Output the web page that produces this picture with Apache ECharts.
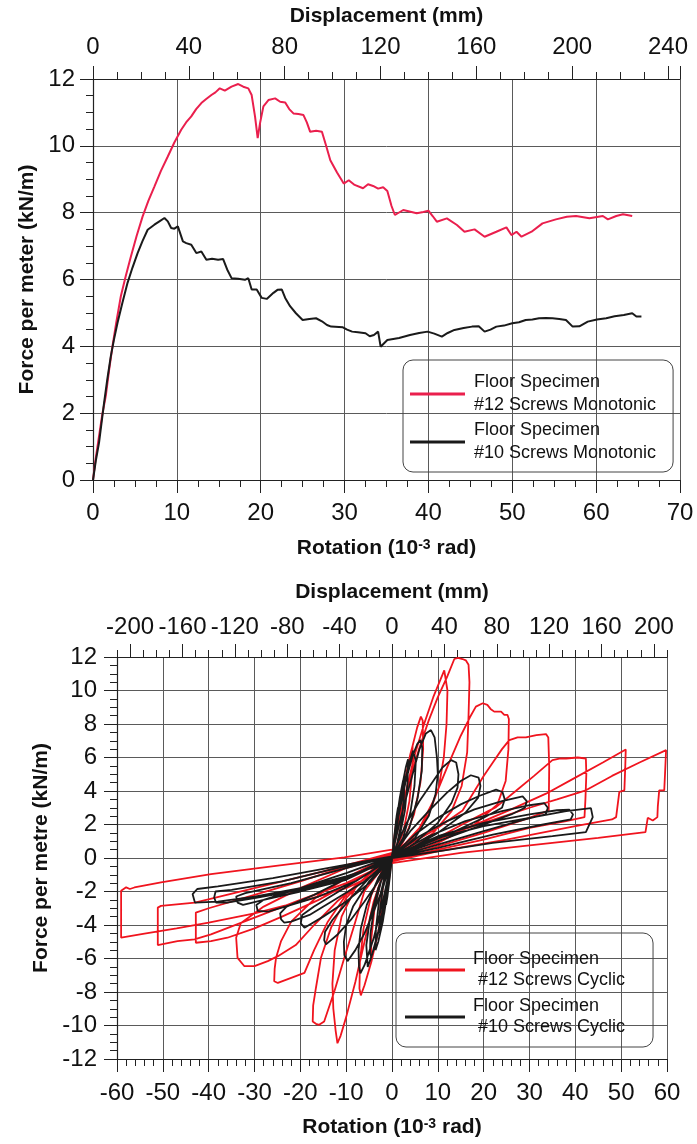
<!DOCTYPE html>
<html><head><meta charset="utf-8">
<script src="https://cdn.jsdelivr.net/npm/echarts@6/dist/echarts.min.js"></script>
<style>html,body{margin:0;padding:0;background:#fff}#c{width:697px;height:1144px}</style>
</head><body><div id="c"></div>
<script>
// ---------- Top chart: monotonic tests [rotation (1e-3 rad), force (kN/m)] ----------
const monoRed12 = [[0,0],[0.3,0.6],[0.72,1.31],[1.1,1.95],[1.52,2.51],[1.9,3.25],[2.32,4.0],[2.8,4.75],[3.32,5.5],[3.9,6.1],[4.52,6.69],[5.2,7.3],[5.92,7.89],[6.6,8.35],[7.32,8.78],[8.1,9.25],[8.92,9.68],[9.7,10.1],[10.52,10.48],[11.1,10.7],[11.72,10.88],[12.3,11.1],[12.92,11.28],[13.5,11.4],[14.12,11.52],[14.6,11.6],[15.12,11.72],[15.72,11.65],[16.52,11.77],[17.32,11.85],[17.92,11.77],[18.52,11.72],[18.92,11.52],[19.32,10.88],[19.64,10.23],[19.92,10.68],[20.32,11.18],[20.92,11.37],[21.72,11.42],[22.32,11.32],[22.92,11.3],[23.4,11.1],[23.9,10.97],[24.5,10.95],[25.1,10.92],[25.5,10.7],[25.9,10.42],[26.6,10.45],[27.3,10.42],[27.8,10.0],[28.3,9.57],[29.1,9.2],[29.9,8.87],[30.5,8.97],[31.2,8.83],[32.2,8.73],[32.8,8.85],[33.4,8.8],[34.0,8.72],[34.6,8.76],[35.1,8.65],[35.6,8.2],[36.0,7.93],[37.0,8.08],[38.6,7.98],[39.4,8.02],[40.0,8.06],[40.5,7.9],[41.0,7.73],[42.2,7.83],[43.4,7.63],[44.3,7.43],[45.5,7.5],[46.7,7.28],[48.1,7.43],[49.3,7.56],[49.9,7.33],[50.5,7.43],[51.1,7.28],[52.3,7.43],[53.6,7.68],[55.2,7.8],[56.5,7.88],[57.6,7.9],[59.2,7.83],[60.8,7.9],[61.4,7.8],[62.4,7.9],[63.2,7.95],[64.3,7.9]];
const monoBlack10 = [[0,0],[0.35,0.6],[0.72,1.12],[1.32,2.31],[1.7,3.0],[2.12,3.7],[2.5,4.2],[2.92,4.7],[3.5,5.3],[4.12,5.9],[4.7,6.35],[5.32,6.79],[5.9,7.15],[6.52,7.49],[7.32,7.64],[7.92,7.74],[8.52,7.84],[8.92,7.74],[9.32,7.54],[9.7,7.52],[10.12,7.59],[10.72,7.14],[11.12,7.09],[11.72,7.04],[12.32,6.79],[12.92,6.84],[13.52,6.59],[14.2,6.62],[14.92,6.59],[15.52,6.61],[16.0,6.3],[16.52,6.04],[17.3,6.02],[18.12,5.99],[18.52,6.04],[18.92,5.7],[19.52,5.7],[20.12,5.45],[20.72,5.42],[21.52,5.6],[22.0,5.69],[22.52,5.7],[22.92,5.45],[23.5,5.2],[24.2,4.99],[25.0,4.79],[25.8,4.82],[26.6,4.84],[27.3,4.75],[27.9,4.64],[28.4,4.59],[29.8,4.57],[30.3,4.5],[30.9,4.44],[31.6,4.42],[32.5,4.39],[33.0,4.3],[33.5,4.34],[34.0,4.44],[34.3,3.99],[35.1,4.19],[36.5,4.25],[37.8,4.34],[38.9,4.4],[39.9,4.44],[40.7,4.38],[41.6,4.29],[42.3,4.4],[43.1,4.49],[44.2,4.55],[45.2,4.59],[46.0,4.6],[46.7,4.44],[47.4,4.5],[48.1,4.59],[49.0,4.62],[50.0,4.69],[50.8,4.72],[51.6,4.79],[52.4,4.8],[53.2,4.84],[54.0,4.85],[54.8,4.84],[55.6,4.82],[56.4,4.79],[57.2,4.59],[58.0,4.6],[59.0,4.74],[60.1,4.8],[61.2,4.84],[62.2,4.9],[63.3,4.94],[64.3,4.99],[64.8,4.89],[65.4,4.89]];

// ---------- Bottom chart: cyclic tests, one loop per array ----------
const redLoop1 = [[0,0],[0.5,1.2],[1,2.3],[1.2,2.6],[1.0,1.8],[0.5,0.7],[0,0],[-0.5,-1.0],[-1,-2.0],[-1.2,-2.3],[-1.0,-1.5],[-0.5,-0.6],[0,0]];
const redLoop2 = [[0,0],[1,2],[2,3.6],[2.6,4.3],[2.5,3.0],[1.8,1.6],[1,0.6],[0,0],[-1,-1.8],[-2,-3.4],[-2.6,-4.0],[-2.5,-2.8],[-1.8,-1.4],[-1,-0.5],[0,0]];
const redLoop3 = [[0,0],[1,1.8],[2,3.4],[3,4.9],[4,6.2],[4.5,6.7],[4.4,5.2],[3.8,3.4],[2.5,1.6],[1,0.5],[0,0],[-1,-1.6],[-2,-3.0],[-3,-4.4],[-4,-5.6],[-4.6,-6.2],[-4.5,-4.8],[-3.8,-3.0],[-2.5,-1.4],[-1,-0.4],[0,0]];
const redLoop4 = [[0,0.1],[1.5,2.6],[3,4.8],[4.5,6.7],[5.5,7.8],[6.3,8.44],[6.7,8.2],[6.8,6.5],[6.2,4.5],[4.8,2.6],[2.5,1.0],[0,0],[-1.5,-2.3],[-3,-4.4],[-4.5,-6.2],[-6,-7.6],[-6.8,-8.2],[-7.1,-7.8],[-7,-6.2],[-6.2,-4.2],[-4.5,-2.2],[-2,-0.7],[0,0]];
const redLoop5 = [[0,0.2],[1.5,2.2],[3.1,4.04],[5,6.2],[7,8.0],[9,9.6],[10.5,10.6],[11.4,11.2],[11.8,11.1],[12.1,10],[11.9,8],[11.3,6],[10.2,4.2],[8,2.6],[4,1.0],[0,0],[-2,-1.0],[-4,-2.6],[-6,-5.0],[-8,-7.4],[-10,-9.5],[-11.2,-10.6],[-11.9,-11.06],[-12.3,-10.3],[-12.8,-9],[-13,-7.5],[-12.5,-5.5],[-11,-3.5],[-8,-1.8],[-4,-0.6],[0,0.2]];
const redLoop6 = [[0,0.2],[2,2.6],[4,4.8],[6,6.6],[8,8.2],[10,9.6],[12,10.8],[13.6,11.88],[14.4,11.95],[15.4,11.88],[16.1,11.8],[16.7,11.54],[16.9,10.5],[16.7,8.5],[16.4,6.3],[15.2,4.3],[13,2.8],[9,1.5],[4,0.5],[0,0],[-3,-0.9],[-6,-1.96],[-8,-3.8],[-10.4,-5.96],[-12.5,-7.9],[-14.8,-9.76],[-15.9,-9.96],[-16.6,-9.9],[-17.3,-9.76],[-17.2,-8.8],[-16.6,-7.76],[-15.5,-5.96],[-13.3,-4.16],[-10,-2.4],[-5,-0.9],[0,0.2]];
const redLoop7 = [[0,0.2],[3,0.9],[6,1.8],[9,3.4],[12,5.4],[15,7.3],[17,8.4],[18.3,9.04],[19.8,9.24],[20.8,9.14],[21.5,8.9],[22.3,8.74],[23.8,8.74],[24.5,8.55],[25.2,8.54],[25.5,8.3],[25.4,6.5],[24.8,4.6],[23,3.2],[18,2.0],[10,0.9],[4,0.3],[0,-0.1],[-5,-1.0],[-10,-2.2],[-14,-3.8],[-17,-5.5],[-19.1,-6.86],[-22,-7.16],[-24.9,-7.46],[-25.7,-7.36],[-25.6,-6.6],[-25.3,-5.96],[-24.2,-4.96],[-22,-3.8],[-16,-2.2],[-8,-0.9],[0,0.2]];
const redLoop8 = [[0,0.2],[5,1.0],[10,1.8],[15.4,2.84],[18,4.0],[20,4.9],[22,5.7],[24,6.5],[25.6,7.04],[27.4,7.2],[29.2,7.2],[31.5,7.34],[33.6,7.4],[34.1,7.2],[34.3,5.5],[34.2,2.84],[30,2.4],[20,1.5],[10,0.7],[0,-0.1],[-6,-1.2],[-12,-2.6],[-17,-4.0],[-21,-5.2],[-24.9,-5.86],[-27.1,-6.16],[-30,-6.46],[-32.2,-6.46],[-33.7,-5.96],[-34,-4.76],[-33,-3.9],[-28,-2.9],[-20,-1.8],[-10,-0.6],[0,0.2]];
const redLoop9 = [[0,0.2],[10,1.2],[16,2.1],[22.7,3.04],[27,4.0],[31,4.9],[35,5.84],[36.5,5.94],[38,5.94],[40.5,6.0],[42.3,5.94],[42.4,5.0],[42.2,3.5],[42.0,2.44],[38,2.2],[30,1.8],[20,1.1],[10,0.5],[0,-0.1],[-8,-1.3],[-16,-2.5],[-24,-3.5],[-30,-4.2],[-35.9,-4.76],[-39.5,-4.96],[-42.8,-5.06],[-42.8,-4.2],[-42.8,-3.26],[-40,-3.0],[-30,-2.2],[-20,-1.4],[-10,-0.5],[0,0.2]];
const redLoop10 = [[0,0.2],[10,1.1],[20,2.2],[26,2.9],[33.6,3.84],[40,4.8],[46,5.7],[51,6.48],[50.9,5.5],[50.7,4.04],[49.6,3.95],[48.9,2.44],[48,2.3],[40,1.9],[25,1.1],[10,0.4],[0,-0.2],[-10,-1.5],[-20,-2.5],[-30,-3.56],[-39.5,-4.56],[-43.1,-4.86],[-46.8,-4.96],[-51.1,-5.2],[-51.1,-4.2],[-51.1,-2.96],[-50.4,-2.86],[-43,-2.66],[-30,-1.8],[-15,-0.8],[0,0.3]];
const redLoop11 = [[0,0.2],[10,1.2],[20,2.1],[30,3.0],[36,3.5],[42.3,4.04],[48,4.9],[54,5.7],[59.8,6.44],[59.6,5.2],[59.4,4.04],[58.3,4.04],[58,3.1],[57.9,2.44],[56.9,2.24],[55.8,2.4],[55.3,1.54],[45,1.2],[30,0.75],[15,0.3],[0,-0.3],[-3,-0.9],[-10,-1.8],[-20,-2.6],[-30,-3.3],[-40,-3.86],[-47,-4.2],[-54,-4.52],[-59.1,-4.76],[-59.1,-3.4],[-59.1,-1.96],[-58.8,-1.96],[-58,-1.75],[-57.2,-1.85],[-56.2,-1.76],[-50.4,-1.46],[-39.5,-0.96],[-24.9,-0.46],[-10.4,0.04],[0,0.5]];

const blackLoop1 = [[0,0],[0.5,1.3],[1,2.5],[1.3,3.0],[1.1,2.0],[0.5,0.7],[0,0],[-0.5,-1.2],[-1,-2.3],[-1.3,-2.8],[-1.1,-1.8],[-0.5,-0.6],[0,0]];
const blackLoop2 = [[0,0],[1,2.2],[2,4.0],[3,5.4],[3.5,5.9],[3.4,4.5],[2.8,2.8],[1.6,1.2],[0,0],[-1,-2],[-2,-3.8],[-3,-5.0],[-3.6,-5.5],[-3.5,-4.2],[-2.8,-2.5],[-1.5,-1.0],[0,0]];
const blackLoop2b = [[0,0],[0.8,1.9],[1.7,3.6],[2.4,4.6],[2.7,4.9],[2.6,3.6],[2.0,2.0],[1.0,0.7],[0,0],[-0.8,-1.7],[-1.7,-3.3],[-2.4,-4.2],[-2.8,-4.5],[-2.7,-3.3],[-2.0,-1.8],[-1.0,-0.6],[0,0]];
const blackLoop3 = [[0,0.1],[1.5,2.6],[3,4.6],[4.5,6.1],[5.5,6.8],[6.2,7.04],[6.6,6.6],[6.5,5.2],[5.6,3.6],[3.8,1.8],[1.5,0.6],[0,0],[-1.5,-2.4],[-3,-4.4],[-4.5,-5.9],[-5.3,-6.5],[-5.6,-6.4],[-5.6,-5.2],[-4.8,-3.6],[-3,-1.8],[-1.2,-0.6],[0,0]];
const blackLoop3b = [[0,0.1],[1.2,2.3],[2.5,4.2],[3.8,5.7],[4.6,6.4],[5.0,6.5],[5.2,5.8],[4.9,4.3],[4.0,2.7],[2.4,1.2],[0,0],[-1.2,-2.1],[-2.5,-3.9],[-3.8,-5.3],[-4.5,-5.9],[-4.8,-5.7],[-4.7,-4.5],[-3.9,-3.0],[-2.4,-1.4],[0,0]];
const blackLoop4 = [[0,0.2],[2,2.5],[4,4.5],[6,6.5],[7.4,7.44],[8.5,7.64],[9.3,7.2],[9.8,6.0],[10,5.0],[9.5,3.8],[8,2.5],[5,1.2],[0,0],[-2,-2.6],[-4,-4.8],[-6,-6.4],[-6.9,-6.88],[-7.2,-6.5],[-7.3,-5.5],[-6.8,-4.2],[-5.5,-2.8],[-3,-1.2],[0,0.1]];
const blackLoop5 = [[0,0.2],[3,2.0],[6,3.4],[9,4.6],[11,5.4],[12.9,5.84],[14,5.7],[14.5,5.0],[14.3,4.2],[13,3.3],[10,2.1],[5,0.9],[0,0],[-2,-1.8],[-4,-3.2],[-6,-4.5],[-8,-5.5],[-9.7,-6.16],[-10.4,-5.8],[-10.5,-5.0],[-10,-4.0],[-8.5,-2.9],[-5,-1.4],[0,0.1]];
const blackLoop6 = [[0,0.2],[4,1.6],[8,2.8],[12,3.9],[15,4.6],[17.2,4.94],[18.9,4.8],[19.3,4.3],[18.8,3.6],[16,2.7],[10,1.5],[5,0.7],[0,0],[-3,-1.4],[-6,-2.6],[-9,-3.7],[-12,-4.6],[-14.4,-5.16],[-14.8,-4.9],[-14.6,-4.4],[-13,-3.7],[-9,-2.4],[-5,-1.2],[0,0.1]];
const blackLoop7 = [[0,0.2],[5,1.4],[10,2.4],[15,3.2],[19,3.7],[22.7,4.08],[24.1,3.94],[24.6,3.5],[24,3.0],[20,2.4],[13,1.5],[6,0.7],[0,0],[-5,-1.5],[-10,-2.6],[-15,-3.5],[-19.1,-4.16],[-19.9,-3.9],[-19.6,-3.4],[-17,-2.9],[-11,-1.9],[-5,-0.9],[0,0.1]];
const blackLoop8 = [[0,0.2],[6,1.3],[12,2.2],[18,2.9],[24,3.4],[28.5,3.68],[29.4,3.4],[29,3.0],[26,2.6],[18,1.8],[9,0.9],[0,0],[-6,-1.4],[-12,-2.4],[-18,-3.4],[-22,-3.8],[-23.5,-3.86],[-24.2,-3.66],[-24.4,-3.3],[-23,-2.9],[-17,-2.2],[-9,-1.1],[0,0.1]];
const blackLoop9 = [[0,0.2],[8,1.3],[16,2.2],[24,2.8],[30,3.15],[33.2,3.28],[34,3.0],[33.5,2.6],[29,2.3],[20,1.6],[10,0.8],[0,0],[-8,-1.4],[-16,-2.3],[-22,-2.8],[-27,-3.2],[-29.3,-3.16],[-29.6,-2.8],[-28,-2.5],[-20,-1.8],[-10,-0.9],[0,0.1]];
const blackLoop10 = [[0,0.2],[10,1.3],[20,2.1],[30,2.6],[36,2.85],[38.7,2.88],[39.5,2.6],[39,2.3],[33,2.0],[22,1.4],[10,0.6],[0,0],[-10,-1.3],[-20,-2.0],[-28,-2.5],[-32.5,-2.8],[-33.7,-2.66],[-34,-2.3],[-32,-2.1],[-22,-1.5],[-10,-0.6],[0,0.1]];
const blackLoop11 = [[0,0.2],[10,1.2],[20,1.9],[30,2.4],[38,2.8],[43.4,2.98],[43.8,2.44],[42.3,1.54],[35,1.3],[22,0.9],[10,0.4],[0,0],[-10,-1.2],[-20,-1.9],[-30,-2.4],[-36,-2.66],[-38.4,-2.66],[-38.8,-2.36],[-38.5,-2.0],[-35,-1.9],[-24,-1.4],[-12,-0.6],[0,0.1]];
const blackLoop12 = [[0,-0.2],[-10,-1.1],[-20,-1.8],[-30,-2.3],[-38,-2.6],[-43,-2.66],[-43.5,-2.16],[-42.5,-1.85],[-38,-1.7],[-26,-1.2],[-12,-0.5],[0,0.1]];

// ---------- Axis tick labels ----------
const dispTopLabels = [0, 40, 80, 120, 160, 200, 240];
const dispBottomLabels = [-200, -160, -120, -80, -40, 0, 40, 80, 120, 160, 200];

const red12Cyclic = [].concat(redLoop1, redLoop2, redLoop3, redLoop4, redLoop5, redLoop6, redLoop7, redLoop8, redLoop9, redLoop10, redLoop11);
const black10Cyclic = [].concat(blackLoop1, blackLoop2b, blackLoop2, blackLoop3b, blackLoop3, blackLoop4, blackLoop5, blackLoop6, blackLoop7, blackLoop8, blackLoop9, blackLoop10, blackLoop11, blackLoop12);

const FONT = '"Liberation Sans", Arial, sans-serif';
const TXT = '#111';
const AX = '#222';
const GRIDC = '#5a5a5a';

const N_RM = 'Floor Specimen\n#12 Screws Monotonic';
const N_BM = 'Floor Specimen\n#10 Screws Monotonic';
const N_RC = 'Floor Specimen\n #12 Screws Cyclic';
const N_BC = 'Floor Specimen\n #10 Screws Cyclic';

function baseAxis(extra) {
  const a = Object.assign({
    type: 'value',
    axisLine: { show: true, lineStyle: { color: AX, width: 1.2 } },
    axisTick: { show: true, inside: false, length: 13, lineStyle: { color: AX, width: 1 } },
    minorTick: { show: true, length: 7, lineStyle: { color: AX, width: 1 } },
    axisLabel: { fontSize: 24, fontFamily: FONT, color: TXT },
    splitLine: { show: true, lineStyle: { color: GRIDC, width: 1 } },
    minorSplitLine: { show: false },
    nameLocation: 'middle',
    nameTextStyle: { fontSize: 21, fontWeight: 'bold', fontFamily: FONT, color: TXT,
      rich: { sup: { fontSize: 14, fontWeight: 'bold', fontFamily: FONT, color: TXT, verticalAlign: 'top' } } }
  }, extra);
  a.axisLine = Object.assign({}, a.axisLine, { onZero: false });
  return a;
}

const option = {
  backgroundColor: '#fff',
  animation: false,
  grid: [
    { left: 93, top: 79, width: 587, height: 401 },
    { left: 117, top: 657, width: 550, height: 402 }
  ],
  xAxis: [
    baseAxis({ gridIndex: 0, position: 'bottom', min: 0, max: 70, interval: 10,
      minorTick: { show: true, splitNumber: 4, length: 7, lineStyle: { color: AX } },
      axisLabel: { fontSize: 24, fontFamily: FONT, color: TXT, margin: 21 },
      name: 'Rotation (10{sup|-3} rad)', nameGap: 58 }),
    baseAxis({ gridIndex: 0, position: 'top', min: 0, max: 245, interval: 40,
      minorTick: { show: true, splitNumber: 4, length: 7, lineStyle: { color: AX } },
      axisLabel: { fontSize: 24, fontFamily: FONT, color: TXT, margin: 20, showMaxLabel: false,
        formatter: v => (dispTopLabels.indexOf(v) >= 0 ? String(v) : '') },
      splitLine: { show: false },
      name: 'Displacement (mm)', nameGap: 52 }),
    baseAxis({ gridIndex: 1, position: 'bottom', min: -60, max: 60, interval: 10,
      minorTick: { show: true, splitNumber: 5, length: 7, lineStyle: { color: AX } },
      axisLabel: { fontSize: 24, fontFamily: FONT, color: TXT, margin: 22 },
      name: 'Rotation (10{sup|-3} rad)', nameGap: 58 }),
    baseAxis({ gridIndex: 1, position: 'top', min: -210, max: 210, interval: 10,
      axisTick: { show: true, length: 7, lineStyle: { color: AX } },
      minorTick: { show: false },
      axisLabel: { show: false },
      splitLine: { show: false } }),
    baseAxis({ gridIndex: 1, position: 'top', min: -210, max: 210,
      axisLine: { show: false },
      axisTick: { show: true, length: 13, customValues: dispBottomLabels, lineStyle: { color: AX } },
      minorTick: { show: false },
      axisLabel: { fontSize: 24, fontFamily: FONT, color: TXT, margin: 18, customValues: dispBottomLabels },
      splitLine: { show: false },
      name: 'Displacement (mm)', nameGap: 54 })
  ],
  yAxis: [
    baseAxis({ gridIndex: 0, min: 0, max: 12, interval: 2,
      minorTick: { show: true, splitNumber: 4, length: 7, lineStyle: { color: AX } },
      axisLabel: { fontSize: 24, fontFamily: FONT, color: TXT, margin: 18 },
      name: 'Force per meter (kN/m)', nameGap: 53 }),
    baseAxis({ gridIndex: 1, min: -12, max: 12, interval: 2,
      minorTick: { show: true, splitNumber: 4, length: 7, lineStyle: { color: AX } },
      axisLabel: { fontSize: 24, fontFamily: FONT, color: TXT, margin: 20 },
      name: 'Force per metre (kN/m)', nameGap: 63 })
  ],
  legend: [
    { data: [N_RM, N_BM], orient: 'vertical', left: 403, top: 360, icon: 'rect',
      itemWidth: 55, itemHeight: 3, itemGap: 2, selectedMode: false,
      padding: [11, 17, 7, 7], borderColor: '#444', borderWidth: 1, borderRadius: 10,
      textStyle: { fontSize: 18, lineHeight: 23, fontFamily: FONT, color: TXT, padding: [0, 0, 0, 4] } },
    { data: [N_RC, N_BC], orient: 'vertical', left: 396, top: 933, icon: 'rect',
      itemWidth: 60, itemHeight: 3, itemGap: 5, selectedMode: false,
      padding: [16, 28, 9, 9], borderColor: '#444', borderWidth: 1, borderRadius: 10,
      textStyle: { fontSize: 18, lineHeight: 21, fontFamily: FONT, color: TXT, padding: [0, 0, 0, 3] } }
  ],
  series: [
    { type: 'line', name: N_RM, xAxisIndex: 0, yAxisIndex: 0, data: monoRed12, showSymbol: false,
      lineStyle: { color: '#ea1f4d', width: 2 }, itemStyle: { color: '#ea1f4d' }, silent: true, z: 3 },
    { type: 'line', name: N_BM, xAxisIndex: 0, yAxisIndex: 0, data: monoBlack10, showSymbol: false,
      lineStyle: { color: '#1a1a1a', width: 2 }, itemStyle: { color: '#1a1a1a' }, silent: true, z: 3 },
    { type: 'line', name: N_RC, xAxisIndex: 2, yAxisIndex: 1, data: red12Cyclic, showSymbol: false,
      lineStyle: { color: '#f0141e', width: 1.8 }, itemStyle: { color: '#f0141e' }, silent: true, z: 3 },
    { type: 'line', name: N_BC, xAxisIndex: 2, yAxisIndex: 1, data: black10Cyclic, showSymbol: false,
      lineStyle: { color: '#1a1a1a', width: 1.8 }, itemStyle: { color: '#1a1a1a' }, silent: true, z: 4 }
  ]
};
const chart = echarts.init(document.getElementById('c'), null, { renderer: 'canvas' });
chart.setOption(option);
</script></body></html>
